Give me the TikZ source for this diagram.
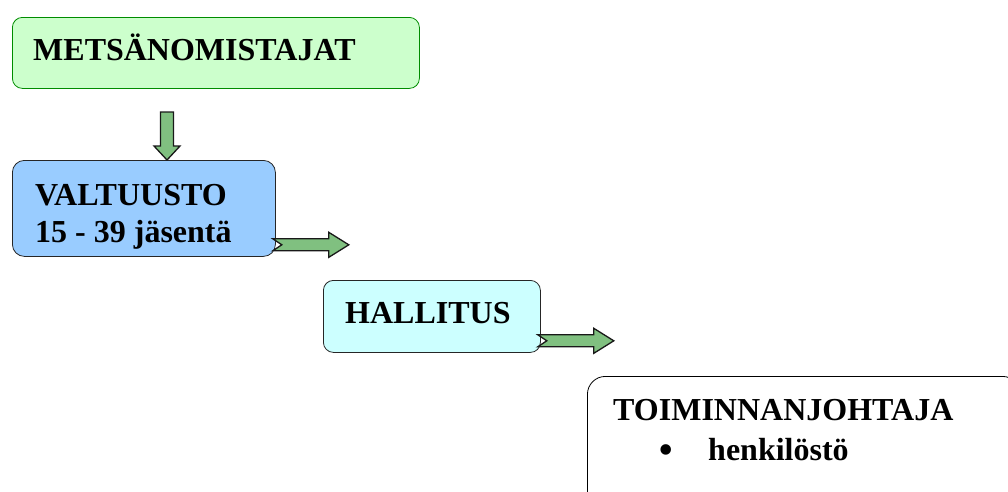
\documentclass[tikz,border=0pt]{standalone}
\usepackage{fontspec}
\setmainfont{Liberation Serif}
\usetikzlibrary{calc,positioning}
\definecolor{ownergreen}{RGB}{204,255,204}
\definecolor{ownerline}{RGB}{0,140,0}
\definecolor{councilblue}{RGB}{153,204,255}
\definecolor{boardcyan}{RGB}{204,255,255}
\definecolor{arrowgreen}{RGB}{128,192,128}
\tikzset{
  box/.style={draw=black!85, line width=0.8pt, anchor=north west, inner sep=0pt},
  lbl/.style={anchor=base west, inner sep=0pt, font=\bfseries\fontsize{32}{37}\selectfont},
  blockarrow/.style={draw=black!90, fill=arrowgreen, line width=1.3pt, line join=miter},
  notcharrow/.pic={
    \draw[blockarrow] (0,-6) -- ++(56,0) -- ++(0,-6.5) -- ++(20,12.5) -- ++(-20,12.5)
      -- ++(0,-6.5) -- ++(-56,0) -- ++(9,-6) -- cycle;
  }
}
\begin{document}
\begin{tikzpicture}[x=1pt,y=-1pt]
\useasboundingbox (0,0) rectangle (1008,491);
\clip (0,0) rectangle (1008,491);
% boxes
\node[box, draw=ownerline, fill=ownergreen, rounded corners=10pt, minimum width=407pt, minimum height=71pt] (omistajat) at (12,17) {};
\node[box, fill=councilblue, rounded corners=12pt, minimum width=263pt, minimum height=96pt] (valtuusto) at (12,160) {};
\node[box, fill=boardcyan, rounded corners=10pt, minimum width=217pt, minimum height=72pt] (hallitus) at (323,280) {};
\node[box, draw=black, fill=white, rounded corners=18pt, minimum width=433pt, minimum height=140pt] (johtaja) at (587,376) {};
% texts
\node[lbl] (omistajat-t) at ($(omistajat.north west)+(21,43)$) {METSÄNOMISTAJAT};
\node[lbl] (valtuusto-t) at ($(valtuusto.north west)+(23,45)$) {VALTUUSTO};
\node[lbl] (jasenet-t) at ($(valtuusto-t.base west)+(0,37)$) {15 - 39 jäsentä};
\node[lbl] (hallitus-t) at ($(hallitus.north west)+(22,43)$) {HALLITUS};
\node[lbl] (johtaja-t) at ($(johtaja.north west)+(26,44)$) {TOIMINNANJOHTAJA};
\node[lbl, font=\fontsize{44}{44}\selectfont] (bullet) at ($(johtaja-t.base west)+(45,44)$) {•};
\node[lbl] (henkilosto-t) at ($(johtaja-t.base west)+(95,40)$) {henkilöstö};
% arrows
\coordinate (down-tip) at ($(valtuusto.north west)+(155,0)$);
\draw[blockarrow] (down-tip) -- ++(13,-14) -- ++(-6.5,0) -- ++(0,-34) -- ++(-13,0)
  -- ++(0,34) -- ++(-6.5,0) -- cycle;
\pic at ($(valtuusto.south east)+(-3,-12)$) {notcharrow};
\pic at ($(hallitus.south east)+(-3,-12)$) {notcharrow};
\end{tikzpicture}
\end{document}
